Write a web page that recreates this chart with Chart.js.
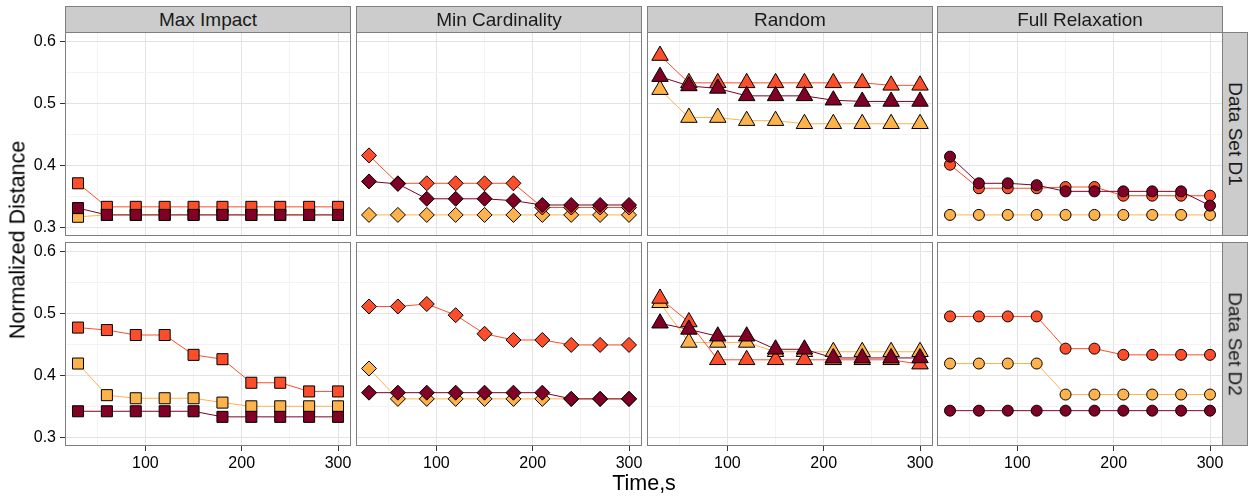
<!DOCTYPE html>
<html>
<head>
<meta charset="utf-8">
<script src="https://cdn.jsdelivr.net/npm/chart.js@4"></script>
<style>
  body { margin: 0; background: #fff; font-family: "Liberation Sans", Arial, sans-serif; }
  #wrap { position: relative; width: 1248px; height: 499px; overflow: hidden; }
  canvas { position: absolute; }
  .strip { position: absolute; background: #cccccc; border: 1px solid #7f7f7f; box-sizing: border-box;
           color: #1a1a1a; font-size: 19px; display: flex; align-items: center; justify-content: center; }
  .vtext { transform: rotate(90deg); white-space: nowrap; }
  .title { position: absolute; color: #000; font-size: 21.5px; white-space: nowrap; }
</style>
</head>
<body>
<div id="wrap"></div>
<script>
const times = [30, 60, 90, 120, 150, 180, 210, 240, 270, 300];
const methods = ["Max Impact", "Min Cardinality", "Random", "Full Relaxation"];
const dataSets = ["Data Set D1", "Data Set D2"];
const xTicks = [50, 100, 150, 200, 250, 300];
const yTicks = [0.30, 0.35, 0.40, 0.45, 0.50, 0.55, 0.60];

// Data Set D1
const maxImpactD1Light = [0.317, 0.320, 0.320, 0.320, 0.320, 0.320, 0.320, 0.320, 0.320, 0.320];
const maxImpactD1Mid   = [0.371, 0.333, 0.333, 0.333, 0.333, 0.333, 0.333, 0.333, 0.333, 0.333];
const maxImpactD1Dark  = [0.331, 0.320, 0.320, 0.320, 0.320, 0.320, 0.320, 0.320, 0.320, 0.320];

const minCardD1Light = [0.320, 0.320, 0.320, 0.320, 0.320, 0.320, 0.320, 0.320, 0.320, 0.320];
const minCardD1Mid   = [0.416, 0.371, 0.371, 0.371, 0.371, 0.371, 0.332, 0.332, 0.332, 0.332];
const minCardD1Dark  = [0.374, 0.370, 0.346, 0.346, 0.346, 0.343, 0.336, 0.336, 0.336, 0.336];

const randomD1Light = [0.522, 0.477, 0.477, 0.472, 0.472, 0.467, 0.467, 0.467, 0.467, 0.467];
const randomD1Mid   = [0.577, 0.533, 0.533, 0.533, 0.533, 0.533, 0.533, 0.533, 0.529, 0.529];
const randomD1Dark  = [0.543, 0.528, 0.524, 0.512, 0.512, 0.512, 0.505, 0.503, 0.503, 0.503];

const fullRelaxD1Light = [0.320, 0.320, 0.320, 0.320, 0.320, 0.320, 0.320, 0.320, 0.320, 0.320];
const fullRelaxD1Mid   = [0.401, 0.363, 0.363, 0.363, 0.365, 0.365, 0.351, 0.351, 0.351, 0.351];
const fullRelaxD1Dark  = [0.414, 0.371, 0.371, 0.368, 0.358, 0.358, 0.358, 0.358, 0.358, 0.335];

// Data Set D2
const maxImpactD2Light = [0.419, 0.368, 0.363, 0.363, 0.363, 0.356, 0.350, 0.350, 0.350, 0.350];
const maxImpactD2Mid   = [0.477, 0.473, 0.465, 0.465, 0.433, 0.426, 0.388, 0.388, 0.374, 0.374];
const maxImpactD2Dark  = [0.342, 0.342, 0.342, 0.342, 0.342, 0.333, 0.333, 0.333, 0.333, 0.333];

const minCardD2Light = [0.411, 0.362, 0.362, 0.362, 0.362, 0.362, 0.362, 0.362, 0.362, 0.362];
const minCardD2Mid   = [0.511, 0.511, 0.515, 0.497, 0.467, 0.457, 0.457, 0.449, 0.449, 0.449];
const minCardD2Dark  = [0.372, 0.372, 0.372, 0.372, 0.372, 0.372, 0.372, 0.362, 0.362, 0.362];

const randomD2Light = [0.517, 0.453, 0.453, 0.453, 0.438, 0.438, 0.438, 0.438, 0.438, 0.438];
const randomD2Mid   = [0.524, 0.486, 0.425, 0.425, 0.425, 0.425, 0.425, 0.425, 0.425, 0.418];
const randomD2Dark  = [0.484, 0.474, 0.463, 0.463, 0.442, 0.442, 0.428, 0.428, 0.428, 0.428];

const fullRelaxD2Light = [0.419, 0.419, 0.419, 0.419, 0.369, 0.369, 0.369, 0.369, 0.369, 0.369];
const fullRelaxD2Mid   = [0.495, 0.495, 0.495, 0.495, 0.443, 0.443, 0.433, 0.433, 0.433, 0.433];
const fullRelaxD2Dark  = [0.343, 0.343, 0.343, 0.343, 0.343, 0.343, 0.343, 0.343, 0.343, 0.343];

const panels = [
  [[maxImpactD1Light, maxImpactD1Mid, maxImpactD1Dark], [minCardD1Light, minCardD1Mid, minCardD1Dark],
   [randomD1Light, randomD1Mid, randomD1Dark], [fullRelaxD1Light, fullRelaxD1Mid, fullRelaxD1Dark]],
  [[maxImpactD2Light, maxImpactD2Mid, maxImpactD2Dark], [minCardD2Light, minCardD2Mid, minCardD2Dark],
   [randomD2Light, randomD2Mid, randomD2Dark], [fullRelaxD2Light, fullRelaxD2Mid, fullRelaxD2Dark]]
];

const colors = ["#FEB24C", "#FC4E2A", "#800026"];
const shapes = ["rect", "rectRot", "triangle", "circle"];
const radii = [7.8, 7.5, 9.5, 5.5];

// layout
const colLeft = [65, 356, 647, 937];
const rowTop = [32, 242];
const panelW = 286, panelH = 204;
const yAxisW = 65, xAxisH = 30;
const FONT = "'Liberation Sans', Arial, sans-serif";

const wrap = document.getElementById("wrap");

const isMajor = (v, step) => Math.abs(v / step - Math.round(v / step)) < 1e-6;

const panelBorder = {
  id: "panelBorder",
  afterDraw(chart) {
    const a = chart.chartArea, ctx = chart.ctx;
    ctx.save();
    ctx.strokeStyle = "#7f7f7f";
    ctx.lineWidth = 1;
    ctx.strokeRect(a.left + 0.5, a.top + 0.5, a.right - a.left - 1, a.bottom - a.top - 1);
    ctx.restore();
  }
};

function addDiv(cls, text, left, top, width, height, inner) {
  const d = document.createElement("div");
  d.className = cls;
  d.style.left = left + "px"; d.style.top = top + "px";
  if (width != null) d.style.width = width + "px";
  if (height != null) d.style.height = height + "px";
  if (inner) {
    const s = document.createElement("span");
    s.className = inner; s.textContent = text; d.appendChild(s);
  } else d.textContent = text;
  wrap.appendChild(d);
  return d;
}

for (let r = 0; r < 2; r++) {
  for (let c = 0; c < 4; c++) {
    const left = c === 0 ? 0 : colLeft[c];
    const w = c === 0 ? panelW + yAxisW : panelW;
    const h = r === 1 ? panelH + xAxisH : panelH;
    const cv = document.createElement("canvas");
    cv.width = w; cv.height = h;
    cv.style.left = left + "px"; cv.style.top = rowTop[r] + "px";
    wrap.appendChild(cv);

    const series = panels[r][c];
    // dark first so it is drawn on top
    const datasets = [2, 1, 0].map(i => ({
      data: times.map((t, k) => ({ x: t, y: series[i][k] })),
      borderColor: colors[i],
      borderWidth: 1,
      backgroundColor: colors[i],
      pointBackgroundColor: colors[i],
      pointBorderColor: "#000",
      pointBorderWidth: 1,
      pointStyle: shapes[c],
      pointRadius: radii[c],
      tension: 0
    }));

    const showX = r === 1, showY = c === 0;
    new Chart(cv, {
      type: "line",
      data: { datasets },
      options: {
        responsive: false,
        animation: false,
        events: [],
        layout: { padding: 0, autoPadding: false },
        plugins: { legend: { display: false }, tooltip: { enabled: false } },
        scales: {
          x: {
            type: "linear", min: 16.5, max: 313.5,
            afterBuildTicks: s => { s.ticks = xTicks.map(v => ({ value: v })); },
            afterFit: s => { s.height = showX ? xAxisH : 0; s.paddingLeft = 0; s.paddingRight = 0; },
            border: { display: false },
            grid: {
              color: ctx => isMajor(ctx.tick.value, 100) ? "#e3e3e3" : "#f3f3f3",
              lineWidth: 1,
              drawTicks: showX,
              tickLength: 5,
              tickColor: ctx => isMajor(ctx.tick.value, 100) ? "#333" : "rgba(0,0,0,0)"
            },
            ticks: {
              display: showX,
              maxRotation: 0,
              autoSkip: false,
              padding: 3,
              color: "#000",
              font: { family: FONT, size: 16 },
              callback: v => isMajor(v, 100) ? String(v) : ""
            }
          },
          y: {
            type: "linear", min: 0.286, max: 0.615,
            afterBuildTicks: s => { s.ticks = yTicks.map(v => ({ value: v })); },
            afterFit: s => { s.width = showY ? yAxisW : 0; s.paddingTop = 0; s.paddingBottom = 0; },
            border: { display: false },
            grid: {
              color: ctx => isMajor(ctx.tick.value, 0.1) ? "#e3e3e3" : "#f3f3f3",
              lineWidth: 1,
              drawTicks: showY,
              tickLength: 5,
              tickColor: ctx => isMajor(ctx.tick.value, 0.1) ? "#333" : "rgba(0,0,0,0)"
            },
            ticks: {
              display: showY,
              autoSkip: false,
              padding: 4,
              color: "#000",
              font: { family: FONT, size: 16 },
              callback: v => isMajor(v, 0.1) ? v.toFixed(1) : ""
            }
          }
        }
      },
      plugins: [panelBorder]
    });
  }
}

// strips
methods.forEach((m, c) => addDiv("strip", m, colLeft[c], 6, panelW, 27));
dataSets.forEach((d, r) => addDiv("strip", d, 1222, rowTop[r], 26, panelH, "vtext"));

// axis titles
const yt = addDiv("title", "Normalized Distance", 18, 240);
yt.style.transform = "translate(-50%, -50%) rotate(-90deg)";
const xt = addDiv("title", "Time,s", 644, 483);
xt.style.transform = "translate(-50%, -50%)";
</script>
</body>
</html>
